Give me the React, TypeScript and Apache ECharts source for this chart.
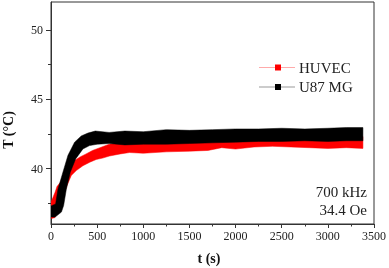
import React, { useEffect, useRef } from "react";
import * as echarts from "echarts";

// U87 MG (black band): upper and lower envelope of the noisy trace
const u87TopT = [0, 50, 75, 130, 184, 256, 328, 400, 480, 630, 800, 1000, 1250, 1500, 1750, 2000, 2250, 2500, 2750, 3000, 3200, 3380];
const u87TopV = [37.3, 37.45, 38.5, 39.75, 40.95, 41.9, 42.35, 42.55, 42.7, 42.6, 42.7, 42.65, 42.8, 42.75, 42.8, 42.85, 42.85, 42.9, 42.85, 42.9, 42.95, 42.95];
const u87BotT = [0, 45, 113, 137, 166, 209, 267, 346, 418, 500, 630, 800, 1000, 1250, 1500, 1750, 2000, 2250, 2500, 2750, 3000, 3200, 3380];
const u87BotV = [36.5, 36.5, 36.86, 37.34, 38.5, 39.73, 40.69, 41.41, 41.65, 41.75, 41.8, 41.7, 41.75, 41.75, 41.8, 41.85, 41.9, 41.95, 41.95, 42.0, 41.95, 42.0, 42.0];

// HUVEC (red band)
const huvecTopT = [0, 20, 45, 65, 100, 150, 200, 260, 320, 380, 450, 530, 630, 800, 1000, 1500, 2000, 2500, 3000, 3380];
const huvecTopV = [37.6, 37.9, 38.3, 38.7, 39.0, 39.6, 40.2, 40.6, 40.85, 41.05, 41.3, 41.5, 41.75, 41.95, 42.0, 42.1, 42.2, 42.3, 42.3, 42.3];
const huvecBotT = [0, 40, 80, 130, 175, 220, 274, 346, 420, 490, 560, 634, 750, 850, 1000, 1250, 1500, 1700, 1850, 2000, 2200, 2400, 2600, 2800, 3000, 3200, 3380];
const huvecBotV = [36.4, 36.45, 36.9, 37.9, 38.8, 39.5, 39.85, 40.2, 40.45, 40.65, 40.75, 40.9, 41.05, 41.15, 41.1, 41.2, 41.25, 41.3, 41.5, 41.4, 41.55, 41.6, 41.55, 41.5, 41.45, 41.5, 41.45];

const xTickLabels = [0, 500, 1000, 1500, 2000, 2500, 3000, 3500];
const yMajorTicks = [40, 45, 50];
const yMinorTicks = [37.5, 42.5, 47.5];
const seriesNames = ["HUVEC", "U87 MG"];
const seriesColors = ["#ff0000", "#000000"];
const legendLineColors = ["#ffaaaa", "#999999"];
const noteLines = ["700 kHz", "34.4 Oe"];

const FONT = "Liberation Serif";

export default function App() {
  const ref = useRef<HTMLDivElement>(null);
  useEffect(() => {
    const chart = echarts.init(ref.current!, null, { renderer: "svg" });
    const band = (name: string, topT: number[], topV: number[], botT: number[], botV: number[], color: string, z: number) => ({
      type: "custom",
      name,
      clip: true,
      z,
      data: [[0, 40]],
      renderItem: (_params: any, api: any) => {
        const pts: number[][] = [];
        topT.forEach((t, i) => pts.push(api.coord([t, topV[i]])));
        for (let i = botT.length - 1; i >= 0; i--) pts.push(api.coord([botT[i], botV[i]]));
        return { type: "polygon", shape: { points: pts }, style: { fill: color, stroke: color, lineWidth: 0.5 } };
      },
    });
    const axisColor = "#333";
    const legendY = [67.5, 87];
    const graphic: any[] = [];
    seriesNames.forEach((n, i) => {
      graphic.push({ type: "line", shape: { x1: 259, y1: legendY[i], x2: 295, y2: legendY[i] }, style: { stroke: legendLineColors[i], lineWidth: 1 } });
      graphic.push({ type: "rect", shape: { x: 275, y: legendY[i] - 3, width: 6, height: 6 }, style: { fill: seriesColors[i] } });
      graphic.push({ type: "text", x: 299, y: legendY[i], style: { text: n, font: `15px "${FONT}"`, fill: "#222", align: "left", verticalAlign: "middle" } });
    });
    noteLines.forEach((t, i) => {
      graphic.push({ type: "text", x: 367, y: 191.5 + i * 18.5, style: { text: t, font: `15px "${FONT}"`, fill: "#222", align: "right", verticalAlign: "middle" } });
    });
    graphic.push({ type: "text", x: 8.5, y: 130, rotation: Math.PI / 2, style: { text: "T (°C)", font: `bold 14px "${FONT}"`, fill: "#111", align: "center", verticalAlign: "middle" } });
    graphic.push({ type: "text", x: 209, y: 258, style: { text: "t (s)", font: `bold 14px "${FONT}"`, fill: "#111", align: "center", verticalAlign: "middle" } });

    chart.setOption({
      animation: false,
      grid: { left: 51, right: 14, top: 2, bottom: 44, show: true, borderColor: axisColor, borderWidth: 1 },
      xAxis: {
        type: "value",
        min: 0,
        max: 3500,
        interval: 500,
        axisLine: { lineStyle: { color: axisColor, width: 1 } },
        axisTick: { length: 4, lineStyle: { color: axisColor } },
        minorTick: { show: true, splitNumber: 2, length: 2.5, lineStyle: { color: axisColor } },
        splitLine: { show: false },
        axisLabel: { margin: 6, color: "#222", fontSize: 12, fontFamily: FONT, customValues: xTickLabels, formatter: (v: number) => String(v) },
      },
      yAxis: [
        {
          type: "value",
          min: 36,
          max: 52,
          axisLine: { show: true, lineStyle: { color: axisColor, width: 1 } },
          axisTick: { show: true, length: 5, customValues: yMajorTicks, lineStyle: { color: axisColor } },
          axisLabel: { customValues: yMajorTicks, color: "#222", fontSize: 12, fontFamily: FONT, margin: 8, formatter: (v: number) => String(v) },
          splitLine: { show: false },
        },
        {
          type: "value",
          min: 36,
          max: 52,
          position: "left",
          axisLine: { show: false },
          axisTick: { show: true, length: 3, customValues: yMinorTicks, lineStyle: { color: axisColor } },
          axisLabel: { show: false },
          splitLine: { show: false },
        },
      ],
      series: [
        band(seriesNames[0], huvecTopT, huvecTopV, huvecBotT, huvecBotV, seriesColors[0], 2),
        band(seriesNames[1], u87TopT, u87TopV, u87BotT, u87BotV, seriesColors[1], 3),
      ],
      graphic,
    });
    return () => chart.dispose();
  }, []);
  return <div ref={ref} style={{ position: "fixed", left: 0, top: 0, width: 389, height: 268 }} />;
}
